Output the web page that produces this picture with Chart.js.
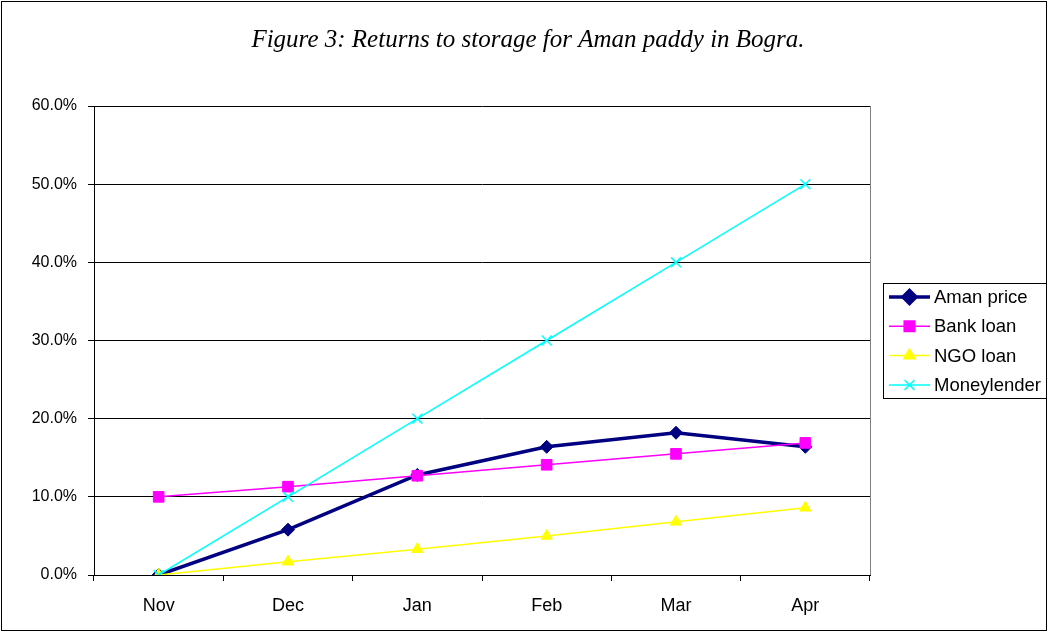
<!DOCTYPE html>
<html>
<head>
<meta charset="utf-8">
<script src="https://cdn.jsdelivr.net/npm/chart.js@4/dist/chart.umd.min.js"></script>
<style>
  html, body { margin: 0; padding: 0; background: #fff; }
  canvas { display: block; }
</style>
</head>
<body>
<canvas id="storageChart" width="1048" height="632"></canvas>
<script>
// Returns to storage for Aman paddy in Bogra
const months = ['Nov', 'Dec', 'Jan', 'Feb', 'Mar', 'Apr'];
const amanPrice = [0.0, 5.8, 12.8, 16.4, 18.2, 16.4];
const bankLoan = [10.0, 11.3, 12.7, 14.1, 15.5, 16.9];
const ngoLoan = [0.0, 1.7, 3.3, 5.0, 6.8, 8.6];
const moneylender = [0.0, 10.0, 20.0, 30.0, 40.0, 50.0];
const yTicks = [0, 10, 20, 30, 40, 50, 60];

(function() {
    const ctx = document.getElementById('storageChart');
    if (typeof Chart === 'undefined') {
        console.error('Chart.js not loaded');
        return;
    }

    const series = [
        { label: 'Aman price', data: amanPrice, color: '#000080', width: 3.5, style: 'rectRot', radius: 6.5 },
        { label: 'Bank loan', data: bankLoan, color: '#FF00FF', width: 1.5, style: 'rect', radius: 7.5 },
        { label: 'NGO loan', data: ngoLoan, color: '#FFFF00', width: 1.5, style: 'triangle', radius: 6.5 },
        { label: 'Moneylender', data: moneylender, color: '#00FFFF', width: 1.5, style: 'crossRot', radius: 7 }
    ];

    // frame, title, plot border and legend
    const decor = {
        id: 'decor',
        beforeDraw(chart) {
            const c = chart.ctx;
            c.save();
            c.fillStyle = '#fff';
            c.fillRect(0, 0, chart.width, chart.height);
            c.restore();
        },
        beforeDatasetsDraw(chart) {
            const c = chart.ctx, a = chart.chartArea;
            c.save();
            c.strokeStyle = '#808080';
            c.lineWidth = 1;
            c.beginPath();
            c.moveTo(a.right + 0.5, a.top);
            c.lineTo(a.right + 0.5, a.bottom);
            c.stroke();
            c.restore();
        },
        afterDraw(chart) {
            const c = chart.ctx;
            c.save();
            // outer frame
            c.strokeStyle = '#000';
            c.lineWidth = 1;
            c.strokeRect(1.5, 1.5, chart.width - 3, chart.height - 3);

            // title
            c.fillStyle = '#000';
            c.font = 'italic 25px "Liberation Serif", "Times New Roman", serif';
            c.textAlign = 'center';
            c.textBaseline = 'middle';
            c.fillText('Figure 3: Returns to storage for Aman paddy in Bogra.', 528, 40);

            // legend
            const lx = 883, ly = 283, lw = 163, lh = 115;
            c.strokeStyle = '#000';
            c.strokeRect(lx + 0.5, ly + 0.5, lw, lh);
            c.font = '18.5px "Liberation Sans", Arial, sans-serif';
            c.textAlign = 'left';
            series.forEach((s, i) => {
                const y = 297 + i * 29.3;
                c.strokeStyle = s.color;
                c.lineWidth = s.width;
                c.beginPath();
                c.moveTo(889, y);
                c.lineTo(930, y);
                c.stroke();
                c.fillStyle = s.color;
                Chart.helpers.drawPoint(c, {
                    pointStyle: s.style,
                    radius: s.radius,
                    borderWidth: s.style === 'crossRot' ? 1.5 : 1,
                    rotation: 0
                }, 909.5, y);
                c.fillStyle = '#000';
                c.fillText(s.label, 934, y + 1);
            });
            c.restore();
        }
    };

    new Chart(ctx, {
        type: 'line',
        data: {
            labels: months,
            datasets: series.map(s => ({
                label: s.label,
                data: s.data,
                borderColor: s.color,
                backgroundColor: s.color,
                borderWidth: s.width,
                pointStyle: s.style,
                pointRadius: s.radius,
                pointBorderColor: s.color,
                pointBackgroundColor: s.color,
                pointBorderWidth: s.style === 'crossRot' ? 1.5 : 1,
                tension: 0,
                fill: false
            })).reverse()
        },
        options: {
            responsive: false,
            animation: false,
            events: [],
            layout: {
                padding: { left: 0, top: 106, right: 178, bottom: 8 }
            },
            plugins: {
                legend: { display: false },
                title: { display: false },
                tooltip: { enabled: false }
            },
            scales: {
                x: {
                    offset: true,
                    afterFit(scale) { scale.height = 49; },
                    grid: {
                        offset: true,
                        drawOnChartArea: false,
                        drawTicks: true,
                        tickLength: 6,
                        color: '#000'
                    },
                    border: { color: '#000', width: 1 },
                    ticks: {
                        color: '#000',
                        padding: 14,
                        maxRotation: 0,
                        font: { family: '"Liberation Sans", Arial, sans-serif', size: 18 }
                    }
                },
                y: {
                    min: 0,
                    max: 60,
                    afterFit(scale) { scale.width = 94; },
                    afterBuildTicks(scale) {
                        scale.ticks = yTicks.map(v => ({ value: v }));
                    },
                    grid: {
                        color: '#000',
                        lineWidth: 1,
                        drawTicks: true,
                        tickLength: 6
                    },
                    border: { color: '#000', width: 1 },
                    ticks: {
                        color: '#000',
                        padding: 11,
                        font: { family: '"Liberation Sans", Arial, sans-serif', size: 16 },
                        callback: v => v.toFixed(1) + '%'
                    }
                }
            }
        },
        plugins: [decor]
    });
})();
</script>
</body>
</html>
